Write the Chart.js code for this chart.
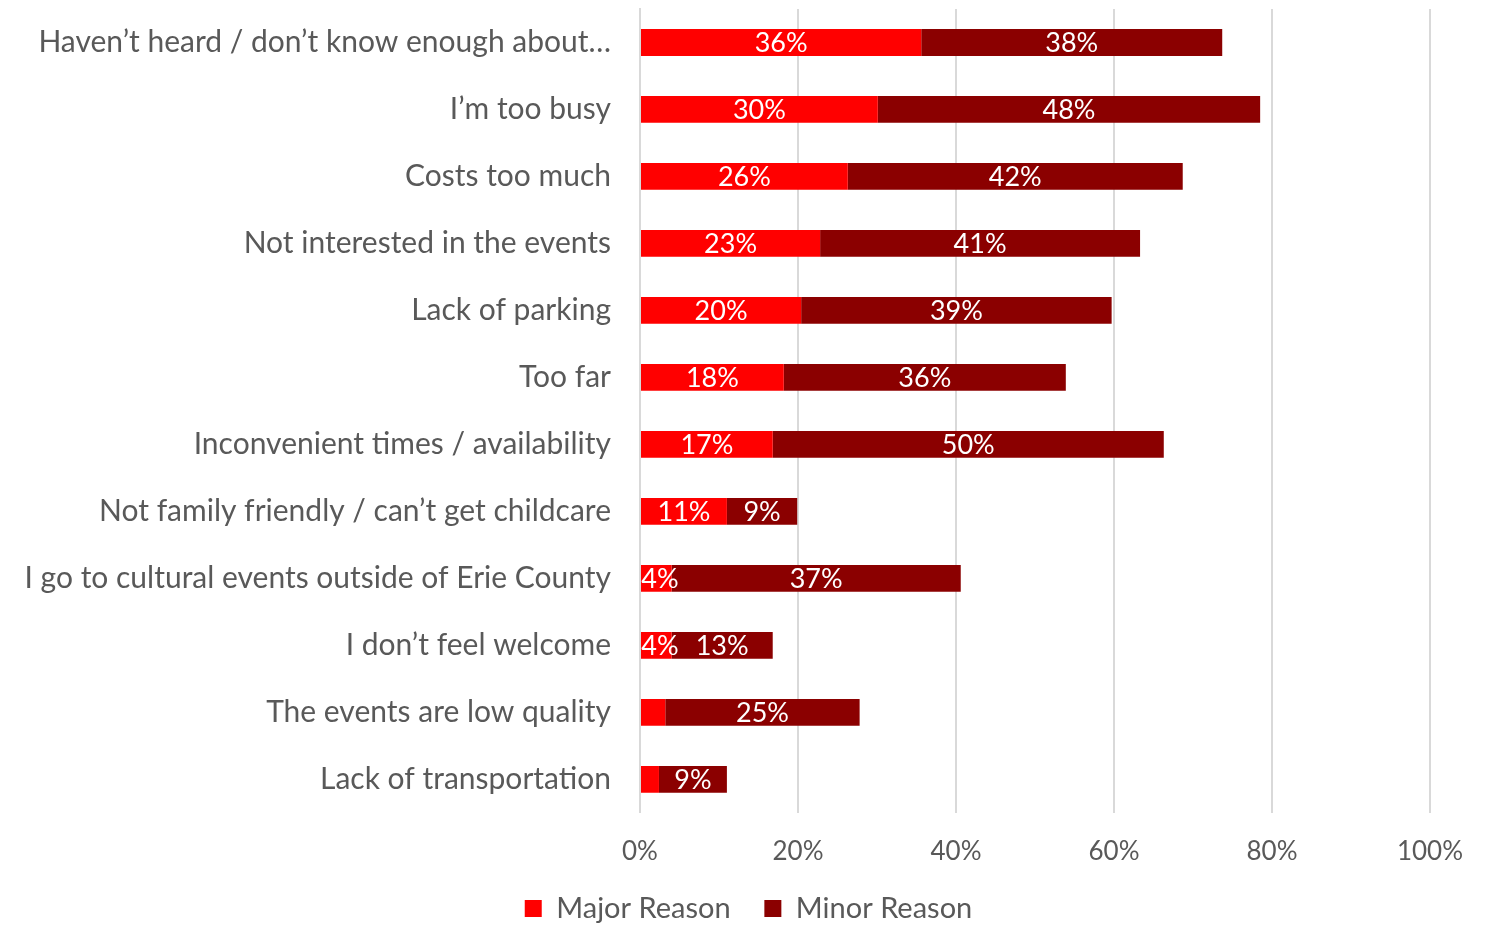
<!DOCTYPE html>
<html>
<head>
<meta charset="utf-8">
<script src="https://cdn.jsdelivr.net/npm/chart.js@4.4.1/dist/chart.umd.min.js"></script>
<style>
  html, body { margin: 0; padding: 0; background: #fff; }
  #wrap { width: 1497px; height: 926px; }
</style>
</head>
<body>
<div id="wrap"><canvas id="reasonsChart"></canvas></div>
<script>
// reasons for not attending cultural events
const categories = [
  'Haven\u2019t heard / don\u2019t know enough about\u2026',
  'I\u2019m too busy',
  'Costs too much',
  'Not interested in the events',
  'Lack of parking',
  'Too far',
  'Inconvenient times / availability',
  'Not family friendly / can\u2019t get childcare',
  'I go to cultural events outside of Erie County',
  'I don\u2019t feel welcome',
  'The events are low quality',
  'Lack of transportation'
];
const majorReason = [35.6, 30.1, 26.3, 22.8, 20.4, 18.2, 16.8, 11.0, 4.0, 4.0, 3.2, 2.4];
const minorReason = [38.1, 48.4, 42.4, 40.5, 39.3, 35.7, 49.5, 8.9, 36.6, 12.8, 24.6, 8.6];
const xTicks = [0, 20, 40, 60, 80, 100];

Chart.defaults.font.family = 'Lato, "Open Sans", sans-serif';
Chart.defaults.color = '#595959';

// white value labels inside each segment (small ones left out)
const barLabels = {
  id: 'barLabels',
  afterDatasetsDraw(chart) {
    const ctx = chart.ctx;
    ctx.save();
    ctx.fillStyle = '#ffffff';
    ctx.font = '27px Lato, "Open Sans", sans-serif';
    ctx.textAlign = 'center';
    ctx.textBaseline = 'middle';
    chart.data.datasets.forEach((ds, i) => {
      chart.getDatasetMeta(i).data.forEach((bar, j) => {
        const v = ds.data[j];
        if (v < 3.5) return;
        const cx = Math.max((bar.x + bar.base) / 2, bar.base + 19);
        ctx.fillText(Math.round(v) + '%', cx, bar.y + 1);
      });
    });
    ctx.restore();
  }
};

new Chart(document.getElementById('reasonsChart'), {
  type: 'bar',
  data: {
    labels: categories,
    datasets: [{
      label: 'Major Reason',
      data: majorReason,
      backgroundColor: '#ff0000',
      barPercentage: 0.4,
      categoryPercentage: 1.0
    }, {
      label: 'Minor Reason',
      data: minorReason,
      backgroundColor: '#8b0000',
      barPercentage: 0.4,
      categoryPercentage: 1.0
    }]
  },
  options: {
    indexAxis: 'y',
    responsive: true,
    maintainAspectRatio: false,
    animation: false,
    layout: { padding: { top: 9, right: 0, left: 0, bottom: -7 } },
    plugins: {
      legend: {
        position: 'bottom',
        labels: {
          boxWidth: 17,
          boxHeight: 17,
          padding: 4,
          font: { size: 29 },
          color: '#595959',
          generateLabels(chart) {
            const items = Chart.defaults.plugins.legend.labels.generateLabels(chart);
            // widen the gap between the two entries
            items[0].text = items[0].text + '    ';
            return items;
          }
        }
      },
      tooltip: { enabled: false }
    },
    scales: {
      x: {
        stacked: true,
        min: 0,
        max: 100,
        afterBuildTicks(axis) {
          axis.ticks = xTicks.map(v => ({ value: v }));
        },
        afterFit(axis) {
          axis.paddingRight = 67;
        },
        ticks: {
          callback: v => v + '%',
          font: { size: 26 },
          color: '#595959',
          padding: 23
        },
        grid: { color: '#d9d9d9', lineWidth: 2, drawTicks: false },
        border: { display: false }
      },
      y: {
        stacked: true,
        afterFit(axis) {
          axis.width = 640;
          axis.paddingTop = 0;
          axis.paddingBottom = 0;
        },
        ticks: {
          font: { size: 30 },
          color: '#595959',
          padding: 29
        },
        grid: { display: false, drawTicks: false },
        border: { color: '#d9d9d9', width: 2 }
      }
    }
  },
  plugins: [barLabels]
});
</script>
</body>
</html>
